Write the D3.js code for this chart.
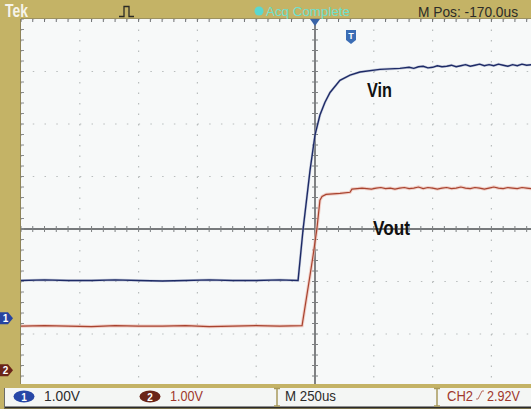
<!DOCTYPE html>
<html>
<head>
<meta charset="utf-8">
<script src="https://cdn.jsdelivr.net/npm/d3@7"></script>
<style>
  html, body { margin: 0; padding: 0; background: #ffffff; }
  svg { display: block; }
  text { font-family: "Liberation Sans Narrow", "Liberation Sans", Arial, sans-serif; }
</style>
</head>
<body>
<svg id="chart" width="531" height="409"></svg>
<script>
// ---------------- DATA ----------------
// Timebase: 250 us/div, trigger (t = 0) at screen centre
const timePerDiv = 250;           // us
const voltsPerDiv = [1.00, 1.00]; // CH1, CH2
const ch1Position = -1.70;        // divisions (ground marker "1")
const ch2Position = -2.69;        // divisions (ground marker "2")
const triggerLevel = 2.92;        // V on CH2
const seriesNames = ["Vin", "Vout"];

// CH1 (Vin) samples: time in us, volts
const vinTime = [-1250,-1150,-1050,-950,-850,-750,-650,-550,-450,-350,-250,-150,-72,
  -51,-21,0,21,42,64,106,149,191,276,361,
  400,420,440,460,480,500,520,540,560,580,600,620,640,660,680,700,720,740,760,780,800,820,840,860,880,900,920];
const vinVolts = [0.72,0.73,0.72,0.72,0.73,0.72,0.71,0.72,0.73,0.72,0.72,0.73,0.72,
  1.68,2.82,3.49,3.87,4.11,4.30,4.53,4.63,4.69,4.74,4.76,
  4.78,4.76,4.79,4.80,4.77,4.78,4.81,4.79,4.80,4.82,4.79,4.81,4.83,4.80,4.82,4.84,4.81,4.83,4.81,4.84,4.82,4.80,4.83,4.81,4.84,4.82,4.83];

// CH2 (Vout) samples: time in us, volts
const voutTime = [-1250,-1150,-1050,-950,-850,-750,-650,-550,-450,-350,-250,-150,-55,
  -38,-21,-8,8,21,30,47,106,149,157,
  180,200,220,240,260,280,300,320,340,360,380,400,420,440,460,480,500,520,540,560,580,600,620,640,660,680,700,720,740,760,780,800,820,840,860,880,900,920];
const voutVolts = [0.84,0.85,0.84,0.83,0.85,0.84,0.84,0.85,0.83,0.84,0.85,0.84,0.85,
  1.33,1.81,2.19,2.69,3.24,3.31,3.35,3.37,3.39,3.45,
  3.46,3.47,3.46,3.45,3.47,3.48,3.46,3.47,3.45,3.47,3.48,3.46,3.47,3.49,3.46,3.48,3.47,3.45,3.47,3.48,3.46,3.47,3.49,3.47,3.46,3.48,3.47,3.45,3.47,3.49,3.47,3.46,3.48,3.47,3.46,3.48,3.47,3.46];

// Read-out labels
const headerBrand = "Tek";
const headerStatus = "Acq Complete";
const headerMPos = "M Pos: -170.0us";
const ch1Scale = "1.00V";
const ch2Scale = "1.00V";
const timeScaleLabel = "M 250us";
const trigSource = "CH2";
const trigValue = "2.92V";

// ---------------- LAYOUT ----------------
const W = 531, H = 409;
const plot = { left: 21, top: 19, right: 531, bottom: 384 };
const divW = 58.8, divH = 52.5;

const svg = d3.select("#chart");

// scales: time -> x ; divisions -> y
const x = d3.scaleLinear().domain([-5 * timePerDiv, 5 * timePerDiv]).range([plot.left, plot.left + 10 * divW]);
const yDiv = d3.scaleLinear().domain([-4, 4]).range([plot.top + 8 * divH, plot.top]);

// ---------------- FRAME ----------------
const olive = "#c4b366";
svg.append("rect").attr("x", 0).attr("y", 0).attr("width", W).attr("height", H).attr("fill", olive);
svg.append("rect").attr("x", plot.left).attr("y", plot.top)
  .attr("width", plot.right - plot.left).attr("height", plot.bottom - plot.top)
  .attr("fill", "#f7f9f9");
svg.append("line").attr("x1", plot.left - 0.5).attr("x2", plot.left - 0.5).attr("y1", plot.top).attr("y2", plot.bottom)
  .attr("stroke", "#8f8458").attr("stroke-width", 1);
svg.append("line").attr("x1", plot.left).attr("x2", plot.right).attr("y1", plot.top - 0.5).attr("y2", plot.top - 0.5)
  .attr("stroke", "#9c9160").attr("stroke-width", 1);

const clip = svg.append("defs").append("clipPath").attr("id", "plotclip");
clip.append("rect").attr("x", plot.left).attr("y", plot.top)
  .attr("width", plot.right - plot.left).attr("height", plot.bottom - plot.top);

const g = svg.append("g").attr("clip-path", "url(#plotclip)");

// ---------------- GRID ----------------
const vDivs = d3.range(0, 11).map(k => -5 * timePerDiv + k * timePerDiv);
const hDivs = d3.range(-4, 5);
const gridColor = "#b9bdbd";

vDivs.forEach(t => {
  if (t === 0) return;
  g.append("line").attr("x1", x(t)).attr("x2", x(t)).attr("y1", plot.top).attr("y2", plot.top + 8 * divH)
    .attr("stroke", gridColor).attr("stroke-width", 1.2)
    .attr("stroke-dasharray", `1.5,${divH / 5 - 1.5}`);
});
hDivs.forEach(d => {
  if (d === 0) return;
  g.append("line").attr("x1", plot.left).attr("x2", plot.left + 10 * divW).attr("y1", yDiv(d)).attr("y2", yDiv(d))
    .attr("stroke", gridColor).attr("stroke-width", 1.2)
    .attr("stroke-dasharray", `1.5,${divW / 5 - 1.5}`);
});

// centre crosshair with minor ticks
g.append("line").attr("x1", x(0)).attr("x2", x(0)).attr("y1", plot.top).attr("y2", plot.bottom)
  .attr("stroke", "#4d4f52").attr("stroke-width", 1.4);
g.append("line").attr("x1", plot.left).attr("x2", plot.right).attr("y1", yDiv(0)).attr("y2", yDiv(0))
  .attr("stroke", "#4d4f52").attr("stroke-width", 1.4);

const minorX = d3.range(0, 51).map(k => -5 * timePerDiv + k * timePerDiv / 5);
const minorY = d3.range(0, 41).map(k => -4 + k / 5);
minorX.forEach(t => {
  g.append("line").attr("x1", x(t)).attr("x2", x(t)).attr("y1", yDiv(0) - 3).attr("y2", yDiv(0) + 3)
    .attr("stroke", "#7d8082").attr("stroke-width", 1);
  g.append("line").attr("x1", x(t)).attr("x2", x(t)).attr("y1", plot.top).attr("y2", plot.top + 3)
    .attr("stroke", "#6f7174").attr("stroke-width", 1);
});
minorY.forEach(d => {
  g.append("line").attr("x1", x(0) - 3).attr("x2", x(0) + 3).attr("y1", yDiv(d)).attr("y2", yDiv(d))
    .attr("stroke", "#7d8082").attr("stroke-width", 1);
  g.append("line").attr("x1", plot.left).attr("x2", plot.left + 3).attr("y1", yDiv(d)).attr("y2", yDiv(d))
    .attr("stroke", "#8a8c8e").attr("stroke-width", 1);
});

// ---------------- TRACES ----------------
const lineCh = (pos, vpd) => d3.line()
  .x(d => x(d[0]))
  .y(d => yDiv(d[1] / vpd + pos));

const vinData = vinTime.map((t, i) => [t, vinVolts[i]]);
const voutData = voutTime.map((t, i) => [t, voutVolts[i]]);

g.append("path").datum(voutData).attr("d", lineCh(ch2Position, voltsPerDiv[1]))
  .attr("fill", "none").attr("stroke", "#ecbdb4").attr("stroke-width", 3.2).attr("stroke-opacity", 0.7);
g.append("path").datum(voutData).attr("d", lineCh(ch2Position, voltsPerDiv[1]))
  .attr("fill", "none").attr("stroke", "#a8432f").attr("stroke-width", 1.2);

g.append("path").datum(vinData).attr("d", lineCh(ch1Position, voltsPerDiv[0]))
  .attr("fill", "none").attr("stroke", "#aab2cc").attr("stroke-width", 2.6).attr("stroke-opacity", 0.6);
g.append("path").datum(vinData).attr("d", lineCh(ch1Position, voltsPerDiv[0]))
  .attr("fill", "none").attr("stroke", "#1d2a66").attr("stroke-width", 1.4);

// annotations
svg.append("text").attr("x", 367).attr("y", 97).attr("font-size", 20).attr("font-weight", "bold")
  .attr("fill", "#111").attr("textLength", 25).attr("lengthAdjust", "spacingAndGlyphs").text(seriesNames[0]);
svg.append("text").attr("x", 373).attr("y", 235).attr("font-size", 20).attr("font-weight", "bold")
  .attr("fill", "#111").attr("textLength", 37).attr("lengthAdjust", "spacingAndGlyphs").text(seriesNames[1]);

// trigger position marker (top, at t = 0)
svg.append("path").attr("d", `M${x(0) - 5},${plot.top} L${x(0) + 5},${plot.top} L${x(0)},${plot.top + 7} Z`)
  .attr("fill", "#3a64a8");
// "T" marker
svg.append("path").attr("d", "M346,30 L356,30 L356,40 L351,44 L346,40 Z").attr("fill", "#3b6db5");
svg.append("text").attr("x", 351).attr("y", 39).attr("text-anchor", "middle").attr("font-size", 9)
  .attr("font-weight", "bold").attr("fill", "#fff").text("T");

// ground markers on left edge
const gm = (yy, fill, label) => {
  svg.append("path").attr("d", `M0,${yy - 6} L8,${yy - 6} L13,${yy} L8,${yy + 6} L0,${yy + 6} Z`).attr("fill", fill);
  svg.append("text").attr("x", 5.5).attr("y", yy + 4).attr("text-anchor", "middle").attr("font-size", 10)
    .attr("font-weight", "bold").attr("fill", "#fff").text(label);
};
gm(yDiv(ch1Position), "#2744a0", "1");
gm(yDiv(ch2Position), "#6a2418", "2");

// ---------------- HEADER ----------------
svg.append("text").attr("x", 5).attr("y", 17).attr("font-size", 18).attr("font-weight", "bold")
  .attr("fill", "#f6f4ea").attr("textLength", 23).attr("lengthAdjust", "spacingAndGlyphs").text(headerBrand);
svg.append("path").attr("d", "M119,16.5 L124,16.5 L124,6.5 L129,6.5 L129,16.5 L134,16.5")
  .attr("fill", "none").attr("stroke", "#2b2b25").attr("stroke-width", 1.3);
svg.append("circle").attr("cx", 259).attr("cy", 11).attr("r", 4.5).attr("fill", "#5ad8d0");
svg.append("text").attr("x", 266).attr("y", 16).attr("font-size", 13)
  .attr("fill", "#6ee0cf").attr("textLength", 84).attr("lengthAdjust", "spacingAndGlyphs").text(headerStatus);
svg.append("text").attr("x", 418).attr("y", 17).attr("font-size", 15)
  .attr("fill", "#2c2c28").attr("textLength", 100).attr("lengthAdjust", "spacingAndGlyphs").text(headerMPos);

// ---------------- BOTTOM BAR ----------------
svg.append("rect").attr("x", 4).attr("y", 388).attr("width", W - 4).attr("height", 19).attr("fill", "#f4f6f4");
svg.append("line").attr("x1", 4).attr("x2", W).attr("y1", 407.5).attr("y2", 407.5).attr("stroke", "#2a2a2a").attr("stroke-width", 2);
svg.append("line").attr("x1", 4.5).attr("x2", 4.5).attr("y1", 388).attr("y2", 408).attr("stroke", "#6c6c66").attr("stroke-width", 1);

const sep = xx => {
  svg.append("path").attr("d", `M${xx - 3},388.5 L${xx + 3},388.5 M${xx},388.5 L${xx},406 M${xx - 3},406 L${xx + 3},406`)
    .attr("fill", "none").attr("stroke", "#a89a5c").attr("stroke-width", 1.5);
};
sep(277); sep(437);

svg.append("ellipse").attr("cx", 24).attr("cy", 396.5).attr("rx", 10.5).attr("ry", 6).attr("fill", "#2747a6");
svg.append("text").attr("x", 24).attr("y", 400.5).attr("text-anchor", "middle").attr("font-size", 10)
  .attr("font-weight", "bold").attr("fill", "#fff").text("1");
svg.append("text").attr("x", 44).attr("y", 401).attr("font-size", 14)
  .attr("fill", "#2c2c2c").attr("textLength", 36).attr("lengthAdjust", "spacingAndGlyphs").text(ch1Scale);

svg.append("ellipse").attr("cx", 150).attr("cy", 396.5).attr("rx", 10.5).attr("ry", 6).attr("fill", "#6a2418");
svg.append("text").attr("x", 150).attr("y", 400.5).attr("text-anchor", "middle").attr("font-size", 10)
  .attr("font-weight", "bold").attr("fill", "#fff").text("2");
svg.append("text").attr("x", 170).attr("y", 401).attr("font-size", 14)
  .attr("fill", "#a0382c").attr("textLength", 33).attr("lengthAdjust", "spacingAndGlyphs").text(ch2Scale);

svg.append("text").attr("x", 285).attr("y", 401).attr("font-size", 14)
  .attr("fill", "#2c2c2c").attr("textLength", 51).attr("lengthAdjust", "spacingAndGlyphs").text(timeScaleLabel);

svg.append("text").attr("x", 447).attr("y", 401).attr("font-size", 14)
  .attr("fill", "#a0382c").attr("textLength", 26).attr("lengthAdjust", "spacingAndGlyphs").text(trigSource);
svg.append("path").attr("d", "M476,399 L478,399 L482,391 L484,391").attr("fill", "none")
  .attr("stroke", "#b86a5c").attr("stroke-width", 1);
svg.append("text").attr("x", 487).attr("y", 401).attr("font-size", 14)
  .attr("fill", "#a0382c").attr("textLength", 33).attr("lengthAdjust", "spacingAndGlyphs").text(trigValue);
</script>
</body>
</html>
